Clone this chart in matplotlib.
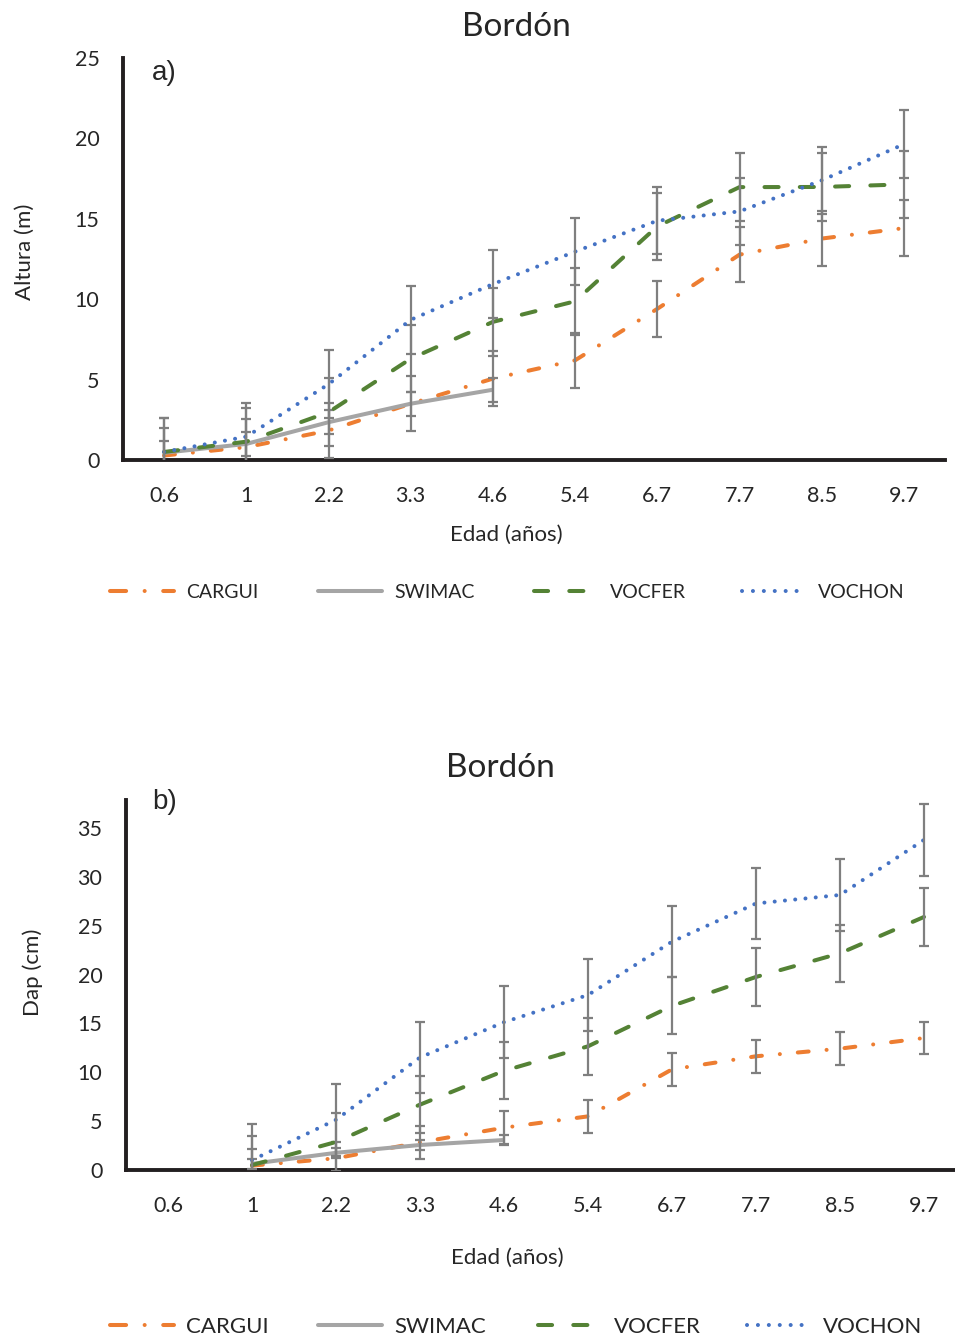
import numpy as np
import matplotlib
matplotlib.use("Agg")
import matplotlib.pyplot as plt
from matplotlib.lines import Line2D

plt.rcParams['font.family'] = ['Lato', 'DejaVu Sans']

# Edades (años) como categorías del eje x
edades = ["0.6", "1", "2.2", "3.3", "4.6", "5.4", "6.7", "7.7", "8.5", "9.7"]
especies = ["CARGUI", "SWIMAC", "VOCFER", "VOCHON"]

# a) Altura (m)
alt_cargui = [0.28, 0.8, 1.83, 3.5, 5.06, 6.2, 9.4, 12.77, 13.77, 14.42]
alt_swimac = [0.45, 1.0, 2.35, 3.5, 4.37]
alt_vocfer = [0.5, 1.14, 2.97, 6.3, 8.59, 9.87, 14.53, 16.97, 16.98, 17.14]
alt_vochon = [0.5, 1.45, 4.71, 8.72, 10.94, 12.96, 14.88, 15.46, 17.39, 19.64]
alt_err = [1.72, 0.75, 2.1, 2.1]

# b) Dap (cm)
dap_cargui = [np.nan, 0.45, 1.2, 2.83, 4.33, 5.49, 10.3, 11.64, 12.42, 13.51]
dap_swimac = [np.nan, 0.63, 1.76, 2.56, 3.07]
dap_vocfer = [np.nan, 0.5, 2.87, 6.69, 10.15, 12.66, 16.8, 19.76, 22.18, 25.9]
dap_vochon = [np.nan, 1.01, 5.14, 11.52, 15.13, 17.91, 23.37, 27.28, 28.15, 33.79]
dap_err = [1.68, 0.5, 2.93, 3.66]

colores = ['#ED7D31', '#A5A5A5', '#548235', '#4472C4']
estilos = [(0, (2.7, 4.47, 0.01, 4.47)), '-', (0, (3.5, 5.26)), (0, (0.01, 2.55))]
estilos_leyenda = [(0, (4.0, 4.6, 0.01, 4.6)), '-', (0, (3.5, 5.26)), (0, (0.01, 2.7))]
LW = 2.9
TXT = '#262626'

W, H = 955, 1340
fig = plt.figure(figsize=(W / 100, H / 100), dpi=100)


def fx(px):
    return px / W


def fy(py):
    return 1 - py / H


def panel(rect, series, errs, ylim, yticks):
    ax = fig.add_axes(rect)
    for i, (y, e) in enumerate(zip(series, errs)):
        x = np.arange(len(y))
        ax.plot(x, y, color=colores[i], lw=LW, linestyle=estilos[i],
                dash_capstyle='round', solid_capstyle='butt', zorder=2 + 2 * i)
        ax.errorbar(x, y, yerr=e, fmt='none', ecolor='#7F7F7F', elinewidth=1.6,
                    capsize=3.6, capthick=1.6, zorder=3 + 2 * i)
    ax.set_xlim(-0.5, len(edades) - 0.5)
    ax.set_ylim(*ylim)
    ax.set_xticks(np.arange(len(edades)))
    ax.set_xticklabels(edades)
    ax.set_yticks(yticks)
    ax.tick_params(axis='both', length=0, labelsize=15.5, colors=TXT)
    ax.tick_params(axis='x', pad=19)
    ax.tick_params(axis='y', pad=17)
    for s in ['top', 'right']:
        ax.spines[s].set_visible(False)
    for s in ['left', 'bottom']:
        ax.spines[s].set_linewidth(2.8)
        ax.spines[s].set_color('#231F20')
    return ax


def leyenda(xs_linea, y, fontsize, largo_px=64, hueco_px=12):
    # longitudes en px convertidas a unidades de tamaño de fuente
    largo = largo_px * 0.72 / fontsize
    hueco = hueco_px * 0.72 / fontsize
    for i, nombre in enumerate(especies):
        h = Line2D([], [], color=colores[i], lw=LW, linestyle=estilos_leyenda[i],
                   dash_capstyle='round', solid_capstyle='round')
        fig.legend(handles=[h], labels=[nombre], loc='center left',
                   bbox_to_anchor=(fx(xs_linea[i]), fy(y)), frameon=False,
                   borderpad=0, borderaxespad=0, handlelength=largo,
                   handletextpad=hueco, fontsize=fontsize, labelcolor=TXT)


# Panel a)
ax1 = panel([fx(123), fy(460), fx(822), 402 / H],
            [alt_cargui, alt_swimac, alt_vocfer, alt_vochon], alt_err,
            (0, 25), np.arange(0, 26, 5))
fig.text(fx(516), fy(27), "Bordón", fontsize=24, ha='center', va='center', color=TXT)
fig.text(fx(152), fy(73), "a)", fontsize=20, ha='left', va='center', color=TXT,
         family='Liberation Sans')
fig.text(fx(25), fy(252), "Altura (m)", fontsize=16, rotation=90, ha='center',
         va='center', color=TXT)
fig.text(fx(506), fy(535), "Edad (años)", fontsize=16, ha='center', va='center', color=TXT)
leyenda([110, 318, 534, 742], 592, 14)

# Panel b)
ax2 = panel([fx(126), fy(1170), fx(840), 370 / H],
            [dap_cargui, dap_swimac, dap_vocfer, dap_vochon], dap_err,
            (0, 37.87), np.arange(0, 36, 5))
fig.text(fx(500), fy(768), "Bordón", fontsize=24, ha='center', va='center', color=TXT)
fig.text(fx(152), fy(802), "b)", fontsize=20, ha='left', va='center', color=TXT,
         family='Liberation Sans')
fig.text(fx(33), fy(972), "Dap (cm)", fontsize=16, rotation=90, ha='center',
         va='center', color=TXT)
fig.text(fx(507), fy(1258), "Edad (años)", fontsize=16, ha='center', va='center', color=TXT)
leyenda([110, 318, 538, 747], 1327, 16)

fig.savefig("out.png", dpi=100)
